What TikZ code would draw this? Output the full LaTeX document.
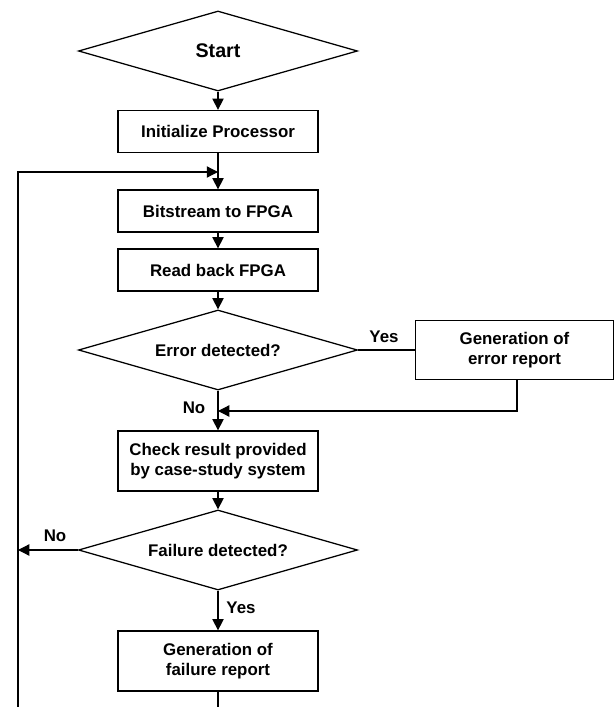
\documentclass[tikz,border=0pt]{standalone}
\usepackage{fontspec}
\setmainfont{Liberation Sans}
\usetikzlibrary{arrows.meta,shapes.geometric}

\begin{document}
\begin{tikzpicture}[x=0.025cm, y=-0.025cm, line width=0.9pt,
    >={Triangle[length=8pt,width=8pt]},
    font=\fontsize{12}{14}\selectfont\bfseries]

    \tikzset{
      box/.style={draw, rectangle, minimum width=5cm, minimum height=1.05cm,
        align=center, inner sep=1pt},
      decision/.style={draw, diamond, aspect=3.5, minimum width=6.975cm,
        minimum height=2cm, inner sep=0pt, align=center},
      lbl/.style={inner sep=0pt}}

    \useasboundingbox (0,0) rectangle (615,707);

    % main column
    \node[decision, font=\fontsize{14}{16}\selectfont\bfseries] (start) at (218,51) {Start};
    \node[box] (init) at (218,131.5) {Initialize Processor};
    \node[box] (bits) at (218,211) {Bitstream to FPGA};
    \node[box] (read) at (218,270) {Read back FPGA};
    \node[decision] (err) at (218,350) {Error detected?};
    \node[box, minimum width=4.95cm, minimum height=1.475cm] (errrep) at (514.5,350)
      {Generation of\\error report};
    \node[box, minimum height=1.5cm] (check) at (218,461)
      {Check result provided\\by case-study system};
    \node[decision] (fail) at (218,550) {Failure detected?};
    \node[box, minimum height=1.5cm] (failrep) at (218,661)
      {Generation of\\failure report};

    % helper points
    \coordinate (rejoin) at (218,172);
    \coordinate (merge) at (218,411);
    \coordinate (lowleft) at (18,707);
    \coordinate (lowmid) at (218,707);

    % connectors
    \draw[->] (start) -- (init);
    \draw[->] (init) -- (bits);
    \draw[->] (bits) -- (read);
    \draw[->] (read) -- (err);
    \draw (err.east) -- (errrep.west);
    \draw[->] ([xshift=2.5*0.025cm]errrep.south) |- (merge);
    \draw[->] (err) -- (check);
    \draw[->] (check) -- (fail);
    \draw[->] (fail) -- (failrep);
    \draw[->] (fail.west) -- (fail.west -| lowleft);
    \draw (failrep) -- (lowmid);
    \draw[->] (lowleft) |- (rejoin);

    % labels
    \node[lbl] (yes1) at (384,337) {Yes};
    \node[lbl] (no1) at (194,408) {No};
    \node[lbl] (no2) at (55,536) {No};
    \node[lbl] (yes2) at (241,608) {Yes};

\end{tikzpicture}
\end{document}
